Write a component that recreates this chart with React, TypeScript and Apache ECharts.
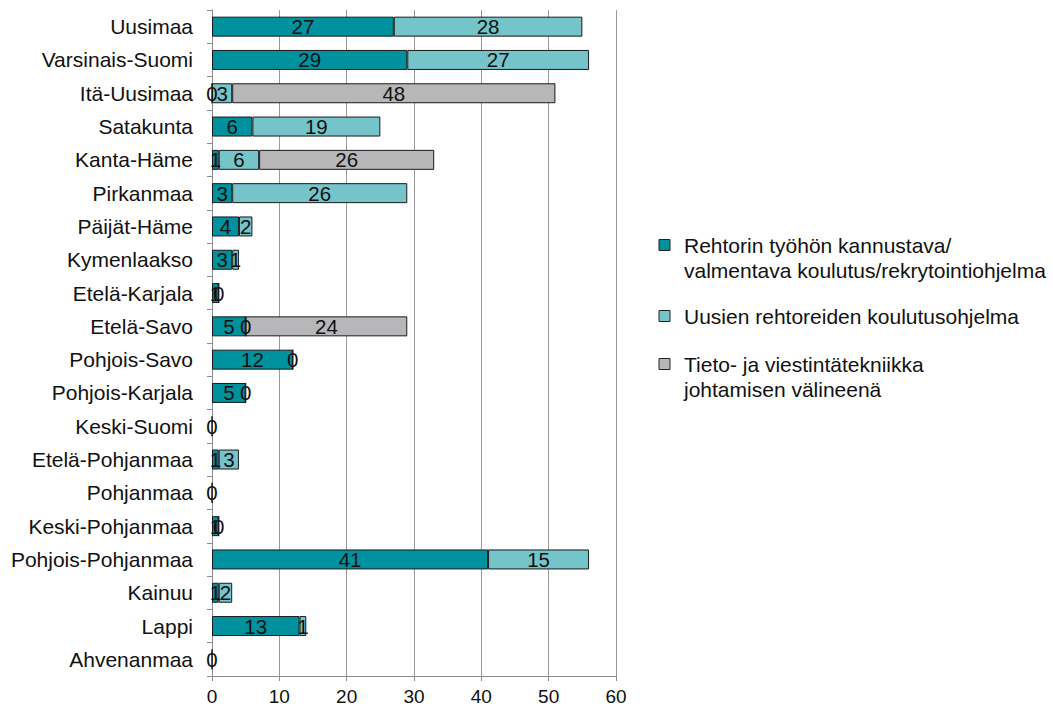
import React, { useEffect, useRef } from "react";
import * as echarts from "echarts";

const categories = [
  "Uusimaa", "Varsinais-Suomi", "Itä-Uusimaa", "Satakunta", "Kanta-Häme",
  "Pirkanmaa", "Päijät-Häme", "Kymenlaakso", "Etelä-Karjala", "Etelä-Savo",
  "Pohjois-Savo", "Pohjois-Karjala", "Keski-Suomi", "Etelä-Pohjanmaa", "Pohjanmaa",
  "Keski-Pohjanmaa", "Pohjois-Pohjanmaa", "Kainuu", "Lappi", "Ahvenanmaa",
];

const seriesNames = [
  "Rehtorin työhön kannustava/valmentava koulutus/rekrytointiohjelma",
  "Uusien rehtoreiden koulutusohjelma",
  "Tieto- ja viestintätekniikka johtamisen välineenä",
];

const legendLines = [
  ["Rehtorin työhön kannustava/", "valmentava koulutus/rekrytointiohjelma"],
  ["Uusien rehtoreiden koulutusohjelma"],
  ["Tieto- ja viestintätekniikka", "johtamisen välineenä"],
];

const rehtoriValues = [27, 29, 0, 6, 1, 3, 4, 3, 1, 5, 12, 5, 0, 1, 0, 1, 41, 1, 13, 0];
const uusienValues = [28, 27, 3, 19, 6, 26, 2, 1, 0, 0, 0, 0, null, 3, null, 0, 15, 2, 1, null];
const tietoValues = [null, null, 48, null, 26, null, null, null, null, 24, null, null, null, null, null, null, null, null, null, null];

const colors = ["#00919e", "#74c4ca", "#b7b7b9"];

export default function App() {
  const ref = useRef<HTMLDivElement>(null);
  useEffect(() => {
    document.body.style.margin = "0";
    const chart = echarts.init(ref.current!, null, { renderer: "svg" });
    const font = "'Liberation Sans', Arial, sans-serif";
    const values = [rehtoriValues, uusienValues, tietoValues];
    const legendTop = [245, 316, 364];
    const graphic: any[] = [];
    legendLines.forEach((lines, i) => {
      graphic.push({
        type: "rect",
        shape: { x: 659, y: legendTop[i] - 5.5, width: 11, height: 11 },
        style: { fill: colors[i], stroke: "#222", lineWidth: 1 },
      });
      lines.forEach((ln, j) => {
        graphic.push({
          type: "text",
          x: 684,
          y: legendTop[i] + j * 25,
          style: {
            text: ln,
            fontSize: 21,
            fontFamily: font,
            fill: "#111",
            verticalAlign: "middle",
            align: "left",
          },
        });
      });
    });
    chart.setOption({
      animation: false,
      grid: { left: 212, right: 437, top: 10, bottom: 37, containLabel: false },
      xAxis: {
        type: "value",
        min: 0,
        max: 60,
        interval: 10,
        axisLine: { show: true, lineStyle: { color: "#8c8c8c", width: 1 } },
        axisTick: { show: true, length: 5, lineStyle: { color: "#8c8c8c" } },
        axisLabel: { fontSize: 19, color: "#111", fontFamily: font, margin: 11 },
        splitLine: { show: true, lineStyle: { color: "#9a9a9a", width: 1 } },
      },
      yAxis: {
        type: "category",
        inverse: true,
        data: categories,
        axisLine: { show: true, lineStyle: { color: "#8c8c8c", width: 1 } },
        axisTick: { show: true, length: 5, lineStyle: { color: "#8c8c8c" } },
        axisLabel: { fontSize: 21, color: "#111", fontFamily: font, margin: 19 },
        splitLine: { show: false },
      },
      series: seriesNames.map((name, i) => ({
        name,
        type: "bar",
        stack: "total",
        barWidth: "60%",
        data: values[i],
        itemStyle: { color: colors[i], borderColor: "#1a1a1a", borderWidth: 1 },
        label: {
          show: true,
          position: "inside",
          fontSize: 20.5,
          color: "#111",
          fontFamily: font,
        },
      })),
      graphic,
    });
    return () => chart.dispose();
  }, []);
  return <div ref={ref} style={{ width: 1053, height: 713 }} />;
}
